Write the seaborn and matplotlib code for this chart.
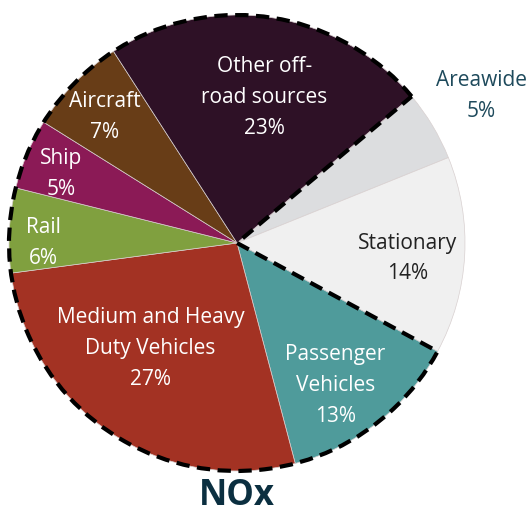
import matplotlib
matplotlib.use("Agg")
import matplotlib.pyplot as plt
import seaborn as sns
import numpy as np
from matplotlib.patches import Wedge

sns.set_theme(style="white")
plt.rcParams['font.family'] = ['Open Sans', 'DejaVu Sans']

# ---- data ----
categories = ["Areawide", "Stationary", "Passenger\nVehicles", "Medium and Heavy\nDuty Vehicles",
              "Rail", "Ship", "Aircraft", "Other off-\nroad sources"]
shares = [5, 14, 13, 27, 6, 5, 7, 23]
mobile = [False, False, True, True, True, True, True, True]
title = "NOx"

# ---- styles ----
colors = ["#dcdddf", "#f0f0f0", "#4f9b9b", "#a33223", "#80a03f", "#8b1a56", "#683d17", "#2e1126"]
text_colors = ["#1e4a5c", "#222222", "white", "white", "white", "white", "white", "white"]
label_r = [1.25, 0.75, 0.76, 0.60, 0.85, 0.83, 0.80, 0.65]
label_da = [0, -2, -3.6, -5.5, 3.2, 1.5, 1, -2]
start = 40.0

W, H, DPI = 528, 513, 100
cx, cy, R = 237, 243, 228
fig = plt.figure(figsize=(W / DPI, H / DPI), dpi=DPI)
ax = fig.add_axes([0, 0, 1, 1])

wedges, _ = ax.pie(shares, colors=colors, startangle=start, counterclock=False,
                   radius=1, center=(0, 0), frame=True,
                   wedgeprops=dict(edgecolor="#d8d0d0", linewidth=0.5))
ax.set_xlim(-cx / R, (W - cx) / R)
ax.set_ylim(-(H - cy) / R, cy / R)
ax.set_aspect("auto")
ax.axis("off")

total = float(sum(shares))
ang = start
mob_start = None
mob_end = None
for i, (lab, v) in enumerate(zip(categories, shares)):
    sweep = v / total * 360
    mid = ang - sweep / 2 + label_da[i]
    r = label_r[i]
    x, y = r * np.cos(np.radians(mid)), r * np.sin(np.radians(mid))
    ax.text(x, y, f"{lab}\n{v}%", ha="center", va="center", color=text_colors[i],
            fontsize=15, linespacing=1.62)
    if mobile[i]:
        if mob_start is None:
            mob_start = ang
        mob_end = ang - sweep
    ang -= sweep

# dashed outline around mobile sources (counterclockwise from end of mobile run to its start)
wd = Wedge((0, 0), 1, mob_end % 360, mob_start % 360, fill=False, edgecolor="black",
           linewidth=3, linestyle=(0, (3.2, 1.8)), joinstyle="miter", capstyle="butt")
ax.add_patch(wd)

ax.text(0, -(505 - cy) / R, title, ha="center", va="baseline", fontsize=25, fontweight="bold",
        color="#0b2f40")

fig.savefig("out.png", dpi=DPI)
